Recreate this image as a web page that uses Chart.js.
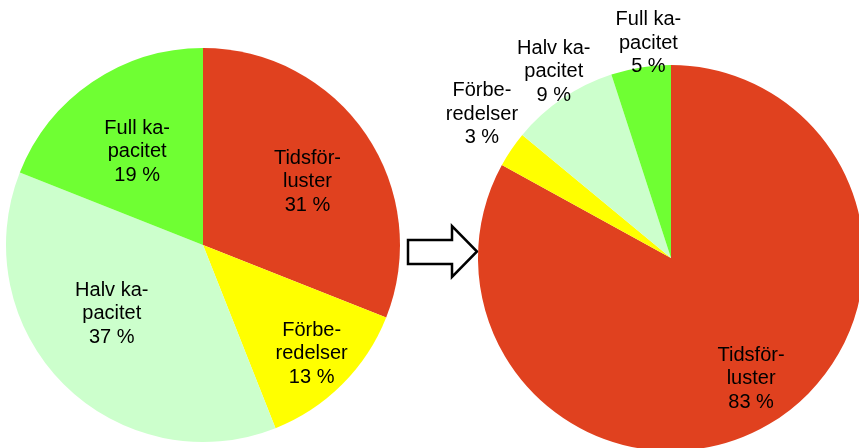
<!DOCTYPE html>
<html>
<head>
<meta charset="utf-8">
<script src="https://cdn.jsdelivr.net/npm/chart.js@4"></script>
<style>
  html, body { margin: 0; padding: 0; background: #fff; }
  body { width: 859px; height: 448px; overflow: hidden; position: relative; }
  canvas, svg { position: absolute; }
</style>
</head>
<body>
<canvas id="beforeChart" width="406" height="490" style="left:0;top:0"></canvas>
<svg id="arrow" width="90" height="80" style="left:400px;top:210px">
  <polygon points="8,30 52,30 52,16 77,41.5 52,67 52,54 8,54" fill="#fff" stroke="#000" stroke-width="2.5" stroke-linejoin="miter"/>
</svg>
<canvas id="afterChart" width="542" height="516" style="left:400px;top:0"></canvas>
<script>
// categories (with the hyphenation used in the picture)
const categories = ["Tidsför-\nluster", "Förbe-\nredelser", "Halv ka-\npacitet", "Full ka-\npacitet"];
// share of time, percent
const beforeValues = [31, 13, 37, 19];
const afterValues = [83, 3, 9, 5];
const sliceColors = ["#E0411F", "#FFFF00", "#CCFFCC", "#6FFF33"];

// where each label sits: fraction of radius and a small angle shift (deg)
const beforeLabelPos = [[0.62, 3], [0.78, 0], [0.58, 8], [0.58, -1]];
const afterLabelPos = [[0.75, -3], [1.23, 3], [1.14, 2], [1.12, 3]];

//draws the multi line labels for each slice
const sliceLabels = {
  id: "sliceLabels",
  afterDatasetsDraw(chart, args, opts) {
    const ctx = chart.ctx;
    const meta = chart.getDatasetMeta(0);
    const values = chart.data.datasets[0].data;
    ctx.save();
    ctx.font = "20px 'Liberation Sans', Arial, sans-serif";
    ctx.fillStyle = "#000";
    ctx.textAlign = "center";
    ctx.textBaseline = "middle";
    meta.data.forEach((arc, i) => {
      const [f, shift] = opts.pos[i];
      const mid = (arc.startAngle + arc.endAngle) / 2 + shift * Math.PI / 180;
      const cx = arc.x + Math.cos(mid) * arc.outerRadius * f;
      const cy = arc.y + Math.sin(mid) * arc.outerRadius * f;
      const lines = categories[i].split("\n").concat(values[i] + " %");
      const lh = 23.5;
      lines.forEach((line, j) => {
        ctx.fillText(line, cx, cy + (j - (lines.length - 1) / 2) * lh);
      });
    });
    ctx.restore();
  },
};

function makePie(id, values, pos, padY) {
  return new Chart(document.getElementById(id), {
    type: "pie",
    data: {
      labels: categories,
      datasets: [{ data: values, backgroundColor: sliceColors, borderWidth: 0 }],
    },
    options: {
      responsive: false,
      animation: false,
      layout: { padding: { top: padY, bottom: padY } },
      plugins: {
        legend: { display: false },
        tooltip: { enabled: false },
        sliceLabels: { pos: pos },
      },
    },
    plugins: [sliceLabels],
  });
}

makePie("beforeChart", beforeValues, beforeLabelPos, 48);
makePie("afterChart", afterValues, afterLabelPos, 65);
</script>
</body>
</html>
